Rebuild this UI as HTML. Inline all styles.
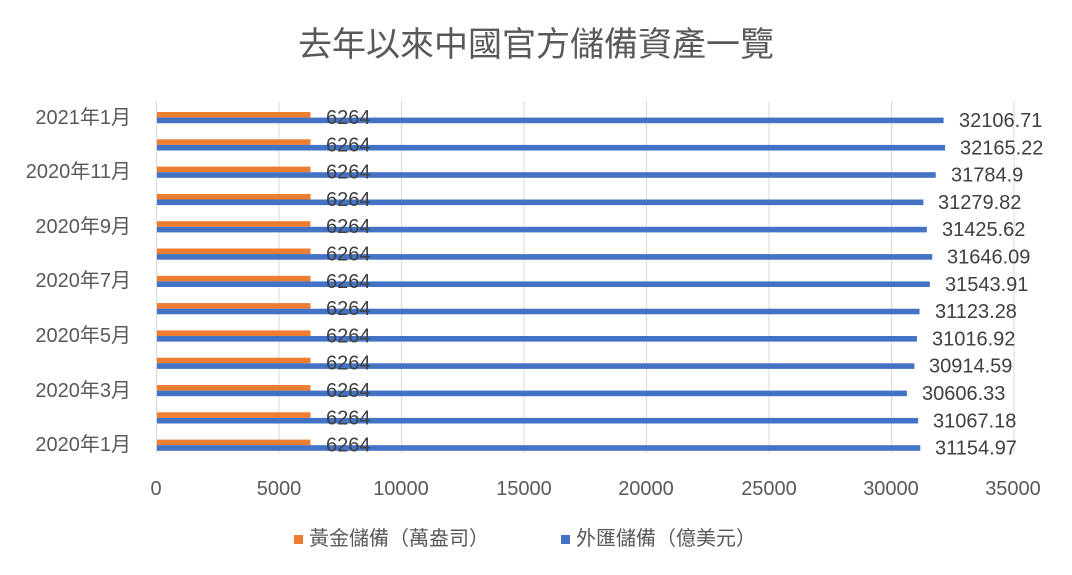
<!DOCTYPE html>
<html><head><meta charset="utf-8"><style>body{margin:0;background:#fff}svg{display:block}</style></head><body>
<svg width="1072" height="575" xmlns="http://www.w3.org/2000/svg" font-family="'Liberation Sans','Noto Sans CJK TC',sans-serif">
<rect width="1072" height="575" fill="#fff"/>
<text x="536" y="56" font-size="34" fill="#595959" text-anchor="middle">去年以來中國官方儲備資產一覽</text>
<g stroke="#d9d9d9" stroke-width="1">
<line x1="156.5" y1="101" x2="156.5" y2="453"/>
<line x1="279" y1="101" x2="279" y2="453"/>
<line x1="401.5" y1="101" x2="401.5" y2="453"/>
<line x1="524" y1="101" x2="524" y2="453"/>
<line x1="646.5" y1="101" x2="646.5" y2="453"/>
<line x1="769" y1="101" x2="769" y2="453"/>
<line x1="891.5" y1="101" x2="891.5" y2="453"/>
<line x1="1014" y1="101" x2="1014" y2="453"/>
</g>
<g font-size="20" fill="#595959" text-anchor="middle">
<text x="156" y="495">0</text><text x="279" y="495">5000</text><text x="401" y="495">10000</text><text x="524" y="495">15000</text><text x="646" y="495">20000</text><text x="769" y="495">25000</text><text x="891" y="495">30000</text><text x="1013" y="495">35000</text>
</g>
<g font-size="20" fill="#595959" text-anchor="end">
<text x="131" y="124">2021年1月</text>
<text x="131" y="178">2020年11月</text>
<text x="131" y="233">2020年9月</text>
<text x="131" y="287">2020年7月</text>
<text x="131" y="342">2020年5月</text>
<text x="131" y="397">2020年3月</text>
<text x="131" y="451">2020年1月</text>
</g>
<g fill="#ed7d31">
<rect x="157" y="112" width="153.5" height="5.6"/>
<rect x="157" y="139.3" width="153.5" height="5.6"/>
<rect x="157" y="166.6" width="153.5" height="5.6"/>
<rect x="157" y="193.9" width="153.5" height="5.6"/>
<rect x="157" y="221.2" width="153.5" height="5.6"/>
<rect x="157" y="248.5" width="153.5" height="5.6"/>
<rect x="157" y="275.8" width="153.5" height="5.6"/>
<rect x="157" y="303.1" width="153.5" height="5.6"/>
<rect x="157" y="330.4" width="153.5" height="5.6"/>
<rect x="157" y="357.7" width="153.5" height="5.6"/>
<rect x="157" y="385" width="153.5" height="5.6"/>
<rect x="157" y="412.3" width="153.5" height="5.6"/>
<rect x="157" y="439.6" width="153.5" height="5.6"/>
</g>
<g fill="#4472c4">
<rect x="157" y="117.6" width="786.6" height="5.6"/>
<rect x="157" y="144.9" width="788.1" height="5.6"/>
<rect x="157" y="172.2" width="778.7" height="5.6"/>
<rect x="157" y="199.5" width="766.4" height="5.6"/>
<rect x="157" y="226.8" width="769.9" height="5.6"/>
<rect x="157" y="254.1" width="775.3" height="5.6"/>
<rect x="157" y="281.4" width="772.8" height="5.6"/>
<rect x="157" y="308.7" width="762.5" height="5.6"/>
<rect x="157" y="336" width="759.9" height="5.6"/>
<rect x="157" y="363.3" width="757.4" height="5.6"/>
<rect x="157" y="390.6" width="749.9" height="5.6"/>
<rect x="157" y="417.9" width="761.2" height="5.6"/>
<rect x="157" y="445.2" width="763.3" height="5.6"/>
</g>
<g font-size="20" fill="#404040">
<text x="326" y="124">6264</text>
<text x="326" y="151.3">6264</text>
<text x="326" y="178.6">6264</text>
<text x="326" y="205.9">6264</text>
<text x="326" y="233.2">6264</text>
<text x="326" y="260.5">6264</text>
<text x="326" y="287.8">6264</text>
<text x="326" y="315.1">6264</text>
<text x="326" y="342.4">6264</text>
<text x="326" y="369.7">6264</text>
<text x="326" y="397">6264</text>
<text x="326" y="424.3">6264</text>
<text x="326" y="451.6">6264</text>
<text x="959" y="127">32106.71</text>
<text x="960" y="154.3">32165.22</text>
<text x="951" y="181.6">31784.9</text>
<text x="938" y="208.9">31279.82</text>
<text x="942" y="236.2">31425.62</text>
<text x="947" y="263.5">31646.09</text>
<text x="945" y="290.8">31543.91</text>
<text x="935" y="318.1">31123.28</text>
<text x="932" y="345.4">31016.92</text>
<text x="929" y="372.7">30914.59</text>
<text x="922" y="400">30606.33</text>
<text x="933" y="427.3">31067.18</text>
<text x="935" y="454.6">31154.97</text>
</g>
<rect x="294" y="535" width="9" height="9" fill="#ed7d31"/>
<text x="309" y="545" font-size="20" fill="#595959">黃金儲備（萬盎司）</text>
<rect x="561" y="535" width="9" height="9" fill="#4472c4"/>
<text x="576" y="545" font-size="20" fill="#595959">外匯儲備（億美元）</text>
</svg>
</body></html>
